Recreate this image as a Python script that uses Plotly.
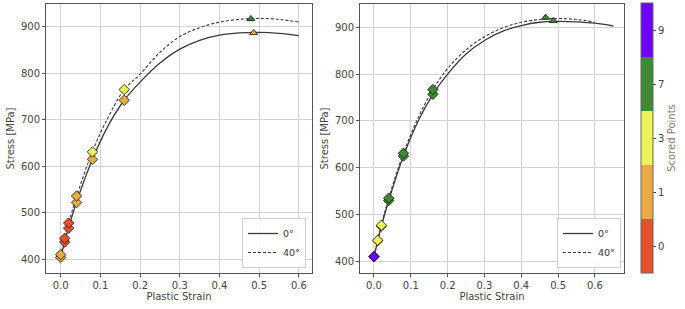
import plotly.graph_objects as go

# ---- data ----
score_levels = [0, 1, 3, 7, 9]
score_colors = ["#E6502C", "#E8AA45", "#EEF25A", "#3E8A33", "#6A00FA"]

# Left panel: measured points (diamonds) and peak points (triangles)
L_strain_pts = [0.0, 0.01, 0.02, 0.04, 0.08, 0.16]
L_stress_0 = [404, 437, 467, 522, 615, 742]
L_stress_40 = [410, 445, 478, 536, 631, 765]
L_score_0 = [1, 0, 0, 1, 1, 1]
L_score_40 = [1, 0, 0, 1, 3, 3]
L_peak_strain = [0.486, 0.479]
L_peak_stress = [887, 917]
L_peak_score = [1, 7]

L_curve_x0 = [0, 0.01, 0.02, 0.04, 0.08, 0.12, 0.16, 0.2, 0.25, 0.3, 0.35, 0.4, 0.45, 0.5, 0.55, 0.6]
L_curve_y0 = [402, 438, 468, 523, 615, 688, 742, 781, 822, 852, 871, 882, 887, 888, 886, 881]
L_curve_x40 = [0, 0.01, 0.02, 0.04, 0.08, 0.12, 0.16, 0.2, 0.25, 0.3, 0.35, 0.4, 0.45, 0.5, 0.55, 0.6]
L_curve_y40 = [407, 443, 477, 535, 632, 706, 765, 798, 845, 879, 898, 910, 916, 918, 916, 910]

# Right panel
R_strain_pts = [0.0, 0.01, 0.02, 0.04, 0.08, 0.16]
R_stress_0 = [410, 444, 475, 530, 625, 757]
R_stress_40 = [410, 445, 477, 535, 631, 767]
R_score_0 = [9, 3, 3, 7, 7, 7]
R_score_40 = [9, 3, 3, 7, 7, 7]
R_peak_strain = [0.487, 0.466]
R_peak_stress = [914, 921]
R_peak_score = [7, 7]

R_curve_x0 = [0, 0.01, 0.02, 0.04, 0.08, 0.12, 0.16, 0.2, 0.25, 0.3, 0.35, 0.4, 0.45, 0.5, 0.55, 0.6, 0.65]
R_curve_y0 = [410, 443, 475, 530, 625, 700, 757, 800, 843, 872, 892, 904, 911, 913, 912, 909, 903]
R_curve_x40 = [0, 0.01, 0.02, 0.04, 0.08, 0.12, 0.16, 0.2, 0.25, 0.3, 0.35, 0.4, 0.45, 0.5, 0.55, 0.6]
R_curve_y40 = [410, 445, 477, 535, 631, 707, 767, 812, 852, 880, 899, 911, 917, 919, 917, 911]

legend_names = ["0°", "40°"]
x_ticks = [0.0, 0.1, 0.2, 0.3, 0.4, 0.5, 0.6]
y_ticks = [400, 500, 600, 700, 800, 900]

# ---- figure ----
W, H = 685, 309
n = len(score_levels)
cscale = []
for i, c in enumerate(score_colors):
    cscale.append([i / n, c])
    cscale.append([(i + 1) / n, c])


def idx(scores):
    return [score_levels.index(s) + 0.5 for s in scores]


fig = go.Figure()
LINE = "#3a3a3a"
TXT = "#444444"


def add_panel(xa, ya, leg, cx0, cy0, cx40, cy40, sx, s0, s40, sc0, sc40, px, py, psc, showscale=False):
    fig.add_trace(go.Scatter(x=cx0, y=cy0, mode="lines", name=legend_names[0],
                             line=dict(color=LINE, width=1.3, shape="spline"),
                             xaxis=xa, yaxis=ya, legend=leg))
    fig.add_trace(go.Scatter(x=cx40, y=cy40, mode="lines", name=legend_names[1],
                             line=dict(color=LINE, width=1.1, dash="3px,2px", shape="spline"),
                             xaxis=xa, yaxis=ya, legend=leg))
    mk = dict(symbol="diamond", size=8, colorscale=cscale, cmin=0, cmax=n,
              line=dict(color="#111", width=0.8))
    fig.add_trace(go.Scatter(x=sx, y=s0, mode="markers", showlegend=False,
                             marker=dict(mk, color=idx(sc0)), xaxis=xa, yaxis=ya))
    fig.add_trace(go.Scatter(x=sx, y=s40, mode="markers", showlegend=False,
                             marker=dict(mk, color=idx(sc40)), xaxis=xa, yaxis=ya))
    tri = dict(symbol="triangle-up", size=7, colorscale=cscale, cmin=0, cmax=n,
               line=dict(color="#111", width=0.8), color=idx(psc))
    if showscale:
        tri.update(showscale=True, colorbar=dict(
            x=640.7 / W, xanchor="left", xref="paper", y=1 - 138 / H, yanchor="middle",
            len=270 / H, lenmode="fraction", thickness=12, thicknessmode="pixels",
            outlinewidth=1, outlinecolor="#666", xpad=0, ypad=0,
            tickvals=[i + 0.5 for i in range(n)], ticktext=[str(s) for s in score_levels],
            ticks="outside", ticklen=3, tickcolor=TXT,
            tickfont=dict(size=10, color=TXT, family="DejaVu Sans"),
            title=dict(text="Scored Points", side="right",
                       font=dict(size=10, color="#8f7a66", family="DejaVu Sans"))))
    fig.add_trace(go.Scatter(x=px, y=py, mode="markers", showlegend=False,
                             marker=tri, xaxis=xa, yaxis=ya))


add_panel("x", "y", "legend", L_curve_x0, L_curve_y0, L_curve_x40, L_curve_y40,
          L_strain_pts, L_stress_0, L_stress_40, L_score_0, L_score_40,
          L_peak_strain, L_peak_stress, L_peak_score)
add_panel("x2", "y2", "legend2", R_curve_x0, R_curve_y0, R_curve_x40, R_curve_y40,
          R_strain_pts, R_stress_0, R_stress_40, R_score_0, R_score_40,
          R_peak_strain, R_peak_stress, R_peak_score, showscale=True)

font = dict(family="DejaVu Sans", size=10, color=TXT)
ydom = [1 - 273 / H, 1 - 4 / H]
axis_common = dict(showgrid=True, gridcolor="#d2d2d2", gridwidth=1, showline=True,
                   linecolor="#555", linewidth=1, mirror=True, ticks="outside",
                   ticklen=3, tickcolor="#555", zeroline=False, tickfont=font)

leg_common = dict(bgcolor="rgba(255,255,255,0.9)", bordercolor="#ccc", borderwidth=1,
                  font=dict(size=9.5, color="#333", family="DejaVu Sans"),
                  tracegroupgap=0, itemwidth=30, yanchor="bottom", xanchor="right")

fig.update_layout(
    width=W, height=H, margin=dict(l=0, r=0, t=0, b=0, autoexpand=False),
    paper_bgcolor="white", plot_bgcolor="white", font=font,
    xaxis=dict(axis_common, domain=[46 / W, 312 / W], range=[-0.037, 0.633],
               tickvals=x_ticks, tickformat=".1f", anchor="y",
               title=dict(text="Plastic Strain", font=font, standoff=2)),
    yaxis=dict(axis_common, domain=ydom, range=[370.5, 949], tickvals=y_ticks, anchor="x",
               title=dict(text="Stress [MPa]", font=font, standoff=4)),
    xaxis2=dict(axis_common, domain=[360 / W, 624 / W], range=[-0.038, 0.679],
                tickvals=x_ticks, tickformat=".1f", anchor="y2",
                title=dict(text="Plastic Strain", font=font, standoff=2)),
    yaxis2=dict(axis_common, domain=ydom, range=[375, 950], tickvals=y_ticks, anchor="x2",
                title=dict(text="Stress [MPa]", font=font, standoff=4)),
    legend=dict(leg_common, x=306 / W, y=1 - 268 / H),
    legend2=dict(leg_common, x=621 / W, y=1 - 268 / H),
)

fig.write_html("out.html", config={"displayModeBar": False},
               post_script="document.body.style.margin='0';")
